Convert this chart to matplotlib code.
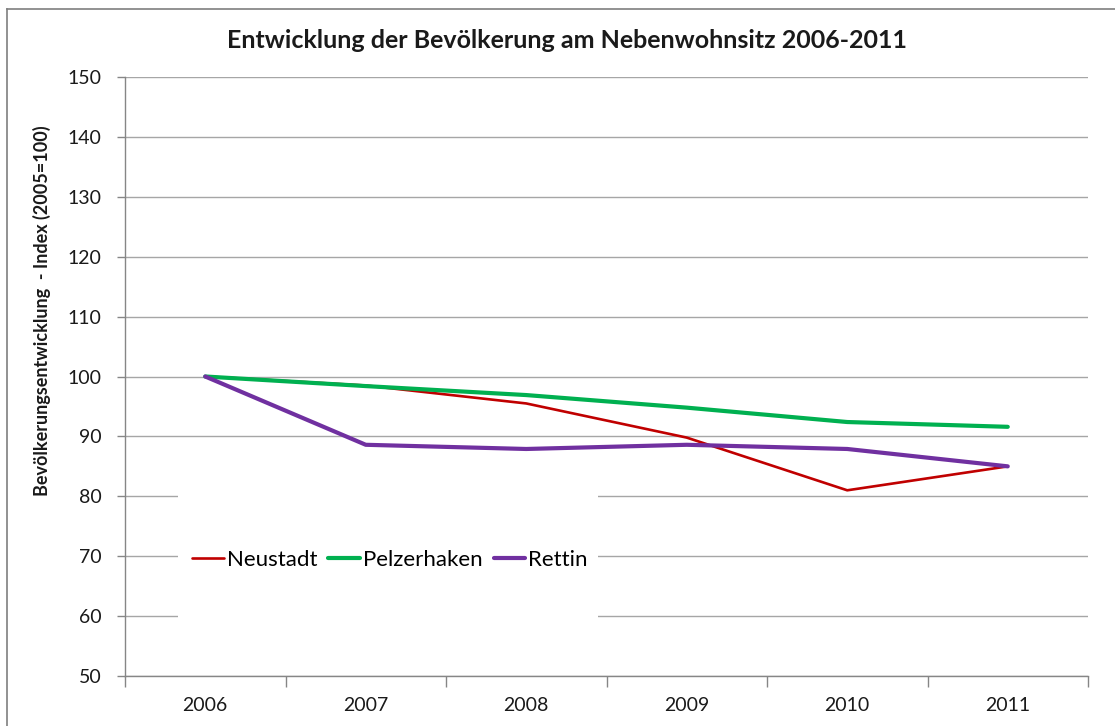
import numpy as np
import matplotlib
matplotlib.use("Agg")
import matplotlib.pyplot as plt
from matplotlib.lines import Line2D
from matplotlib.patches import Rectangle

years = ["2006", "2007", "2008", "2009", "2010", "2011"]
neustadt = [100, 98.5, 95.5, 89.8, 81.0, 85.0]
pelzerhaken = [100, 98.4, 96.9, 94.8, 92.4, 91.6]
rettin = [100, 88.6, 87.9, 88.6, 87.9, 85.0]

plt.rcParams["font.family"] = ["Lato", "DejaVu Sans"]

fig = plt.figure(figsize=(11.15, 7.26), dpi=100)
ax = fig.add_axes([125/1115, 50/726, 963/1115, 599/726])

x = np.arange(len(years))
ax.plot(x, neustadt, color="#C00000", lw=1.9, label="Neustadt", zorder=3, solid_capstyle="round")
ax.plot(x, pelzerhaken, color="#00B050", lw=3.0, label="Pelzerhaken", zorder=3, solid_capstyle="round")
ax.plot(x, rettin, color="#7030A0", lw=3.0, label="Rettin", zorder=3, solid_capstyle="round")

ax.set_xlim(-0.5, len(years) - 0.5)
ax.set_ylim(50, 150)
ax.set_yticks(np.arange(50, 151, 10))
ax.yaxis.grid(True, color="#A6A6A6", lw=1.0)
ax.set_axisbelow(True)

ax.set_xticks(np.arange(-0.5, len(years), 1.0))
ax.set_xticklabels([])
ax.set_xticks(x, minor=True)
ax.set_xticklabels(years, minor=True)
ax.tick_params(axis="x", which="major", length=8, width=1, color="#868686", direction="out")
ax.tick_params(axis="x", which="minor", length=0, pad=15, labelsize=14, labelcolor="#1a1a1a")
ax.tick_params(axis="y", length=6, width=1, color="#868686", pad=11, labelsize=14, labelcolor="#1a1a1a")

for s in ["top", "right"]:
    ax.spines[s].set_visible(False)
for s in ["left", "bottom"]:
    ax.spines[s].set_color("#868686")
    ax.spines[s].set_linewidth(1.0)

# white legend background hiding the grid
bg = Rectangle((178/1115, 1 - 622/726), 420/1115, 132/726, transform=fig.transFigure,
               facecolor="white", edgecolor="none", zorder=1.8, clip_on=False)
ax.add_patch(bg)

leg = ax.legend(loc="center", bbox_to_anchor=(390/1115, 1 - 560/726), bbox_transform=fig.transFigure,
                ncol=3, frameon=False, fontsize=16, handlelength=1.4, handletextpad=0.15,
                columnspacing=0.5)

fig.text(567/1115, 1 - 41/726, "Entwicklung der Bevölkerung am Nebenwohnsitz 2006-2011",
         ha="center", va="center", fontsize=18, fontweight="bold", color="#1a1a1a")
fig.text(42/1115, 1 - 311/726, "Bevölkerungsentwicklung  - Index (2005=100)",
         ha="center", va="center", rotation=90, fontsize=13, fontweight="bold", color="#1a1a1a")

# outer chart border (top and left visible)
fig.add_artist(Line2D([7/1115, 7/1115], [0, 1 - 9/726], transform=fig.transFigure, color="#7f7f7f", lw=1.2))
fig.add_artist(Line2D([7/1115, 1], [1 - 9/726, 1 - 9/726], transform=fig.transFigure, color="#7f7f7f", lw=1.2))

fig.savefig("out.png", dpi=100)
